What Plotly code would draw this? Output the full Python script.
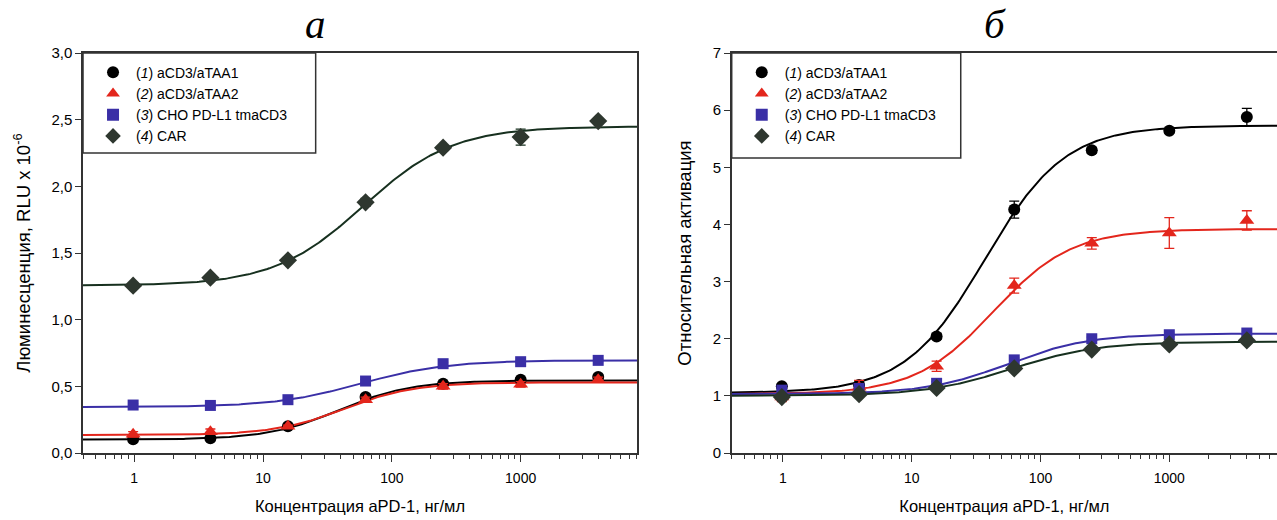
import numpy as np
import plotly.graph_objects as go

# ---------------- data ----------------
conc = [0.98, 3.9, 15.6, 62.5, 250, 1000, 4000]
names = ["(<i>1</i>) aCD3/aTAA1", "(<i>2</i>) aCD3/aTAA2",
         "(<i>3</i>) CHO PD-L1 tmaCD3", "(<i>4</i>) CAR"]

# panel a: luminescence, RLU x 10^-6
a_s1 = [0.103, 0.11, 0.20, 0.42, 0.52, 0.55, 0.57]
a_s2 = [0.14, 0.16, 0.20, 0.40, 0.50, 0.515, 0.55]
a_s3 = [0.36, 0.357, 0.40, 0.54, 0.67, 0.685, 0.695]
a_s4 = [1.255, 1.315, 1.445, 1.88, 2.29, 2.37, 2.49]
a_e1 = [0.01, 0.01, 0.01, 0.02, 0.01, 0.01, 0.02]
a_e2 = [0.02, 0.02, 0.01, 0.02, 0.02, 0.02, 0.02]
a_e3 = [0.01, 0.01, 0.01, 0.01, 0.01, 0.01, 0.01]
a_e4 = [0.01, 0.01, 0.01, 0.03, 0.02, 0.06, 0.02]

# panel b: relative activation
b_s1 = [1.17, 1.19, 2.04, 4.26, 5.30, 5.64, 5.88]
b_s2 = [0.98, 1.15, 1.52, 2.93, 3.67, 3.85, 4.07]
b_s3 = [1.10, 1.13, 1.22, 1.63, 2.00, 2.07, 2.10]
b_s4 = [0.98, 1.03, 1.14, 1.48, 1.81, 1.90, 1.97]
b_e1 = [0.04, 0.05, 0.05, 0.15, 0.05, 0.04, 0.15]
b_e2 = [0.08, 0.12, 0.09, 0.13, 0.10, 0.27, 0.17]
b_e3 = [0.03, 0.03, 0.03, 0.03, 0.03, 0.03, 0.03]
b_e4 = [0.02, 0.02, 0.02, 0.03, 0.03, 0.03, 0.03]

# 4-parameter logistic fit parameters: bottom, top, EC50, Hill
a_fit = [[0.100, 0.545, 39, 1.55], [0.135, 0.530, 43, 1.6],
         [0.345, 0.695, 57, 1.3], [1.255, 2.450, 60, 1.25]]
b_fit = [[1.05, 5.73, 37, 1.4], [1.03, 3.92, 43, 1.43],
         [1.03, 2.09, 56, 1.37], [1.00, 1.95, 60, 1.3]]

y_ticks_a = [0, 0.5, 1.0, 1.5, 2.0, 2.5, 3.0]
y_text_a = ["0,0", "0,5", "1,0", "1,5", "2,0", "2,5", "3,0"]
y_ticks_b = [0, 1, 2, 3, 4, 5, 6, 7]
x_ticks = [1, 10, 100, 1000]

# ---------------- styles ----------------
colors = ["#000000", "#e3261c", "#3a2fa6", "#2e372f"]
line_colors = ["#000000", "#e3261c", "#3a2fa6", "#17301f"]
symbols = ["circle", "triangle-up", "square", "diamond"]
sizes = [12, 13, 11, 14]

xfine = np.logspace(np.log10(0.35), np.log10(9000), 300)


def logistic(x, p):
    b, t, ec, h = p
    return b + (t - b) / (1 + (ec / x) ** h)


fig = go.Figure()

panels = [
    (["x", "y"], [a_s1, a_s2, a_s3, a_s4], [a_e1, a_e2, a_e3, a_e4], a_fit, "legend"),
    (["x2", "y2"], [b_s1, b_s2, b_s3, b_s4], [b_e1, b_e2, b_e3, b_e4], b_fit, "legend2"),
]
for (xa, ya), series, errs, fits, leg in panels:
    for i in range(4):
        fig.add_trace(go.Scatter(
            x=xfine, y=logistic(xfine, fits[i]), mode="lines",
            line=dict(color=line_colors[i], width=2), showlegend=False,
            xaxis=xa, yaxis=ya, hoverinfo="skip"))
    for i in range(4):
        fig.add_trace(go.Scatter(
            x=conc, y=series[i], mode="markers", name=names[i],
            marker=dict(symbol=symbols[i], size=sizes[i], color=colors[i],
                        line=dict(width=0)),
            error_y=dict(type="data", array=errs[i], color=line_colors[i],
                         thickness=1.3, width=5),
            xaxis=xa, yaxis=ya, legend=leg))

xtitle_font = dict(family="Liberation Sans, Arial", size=16.5, color="#000")
ytitle_font = dict(family="Liberation Sans, Arial", size=18.5, color="#000")
xtick_font = dict(family="Liberation Sans, Arial", size=14, color="#000")
ytick_font = dict(family="Liberation Sans, Arial", size=15, color="#000")
legend_font = dict(family="Liberation Sans, Arial", size=14, color="#000")

xcommon = dict(type="log", showgrid=False, zeroline=False, showline=True,
               automargin=False,
               linecolor="#333", linewidth=1.5, ticks="outside", ticklen=7,
               tickwidth=1, tickcolor="#333", tickvals=x_ticks,
               ticktext=[str(v) for v in x_ticks], tickfont=xtick_font,
               ticklabelstandoff=4,
               minor=dict(ticks="outside", ticklen=4, tickcolor="#333",
                          dtick="D1", showgrid=False),
               title=dict(text="Концентрация aPD-1, нг/мл", font=xtitle_font,
                          standoff=16))
ycommon = dict(showgrid=False, zeroline=False, showline=True, linecolor="#333",
               automargin=False,
               linewidth=1.5, ticks="outside", ticklen=6, tickwidth=1,
               tickcolor="#333", tickfont=ytick_font)

fig.update_layout(
    width=1277, height=520,
    margin=dict(l=0, r=0, t=0, b=0, autoexpand=False),
    paper_bgcolor="white", plot_bgcolor="white",
    xaxis=dict(xcommon, domain=[0.065, 0.4988],
               range=[np.log10(0.4), np.log10(8000)], mirror=True, anchor="y"),
    yaxis=dict(ycommon, domain=[0.1288, 0.898], range=[0, 3.0], mirror=True,
               tickvals=y_ticks_a, ticktext=y_text_a, anchor="x",
               title=dict(text="Люминесценция, RLU x 10<sup>-6</sup>",
                          font=ytitle_font, standoff=16)),
    xaxis2=dict(xcommon, domain=[0.573, 1.0],
                range=[np.log10(0.4), np.log10(6860)], mirror=True, anchor="y2"),
    yaxis2=dict(ycommon, domain=[0.1288, 0.898], range=[0, 7], mirror=False,
                tickvals=y_ticks_b, anchor="x2",
                title=dict(text="Относительная активация", font=ytitle_font,
                           standoff=16)),
    legend=dict(x=0.0705, y=0.891, xref="paper", yref="paper",
                xanchor="left", yanchor="top", bgcolor="rgba(0,0,0,0)",
                borderwidth=0, font=legend_font, itemwidth=36,
                tracegroupgap=0, itemsizing="constant"),
    legend2=dict(x=0.5785, y=0.891, xref="paper", yref="paper",
                 xanchor="left", yanchor="top", itemwidth=36,
                 bgcolor="rgba(0,0,0,0)", borderwidth=0, font=legend_font,
                 tracegroupgap=0, itemsizing="constant"),
    annotations=[
        dict(text="<i>а</i>", x=0.419, y=1.0, xref="x domain", yref="y domain",
             xanchor="center", yanchor="bottom", yshift=4, showarrow=False,
             font=dict(family="Liberation Serif, Times New Roman", size=41,
                       color="#000")),
        dict(text="<i>б</i>", x=0.483, y=1.0, xref="x2 domain", yref="y2 domain",
             xanchor="center", yshift=4, yanchor="bottom", showarrow=False,
             font=dict(family="Liberation Serif, Times New Roman", size=41,
                       color="#000")),
    ],
    shapes=[
        dict(type="rect", xref="x domain", yref="y domain", x0=0, x1=0.42,
             y0=0.75, y1=1.0, line=dict(color="#333", width=1.5)),
        dict(type="rect", xref="x2 domain", yref="y2 domain", x0=0, x1=0.42,
             y0=0.7375, y1=1.0, line=dict(color="#333", width=1.5)),
    ],
)

fig.write_html("out.html", config={"displayModeBar": False},
               post_script="document.body.style.margin='0';"
                           "document.body.style.overflow='hidden';")
